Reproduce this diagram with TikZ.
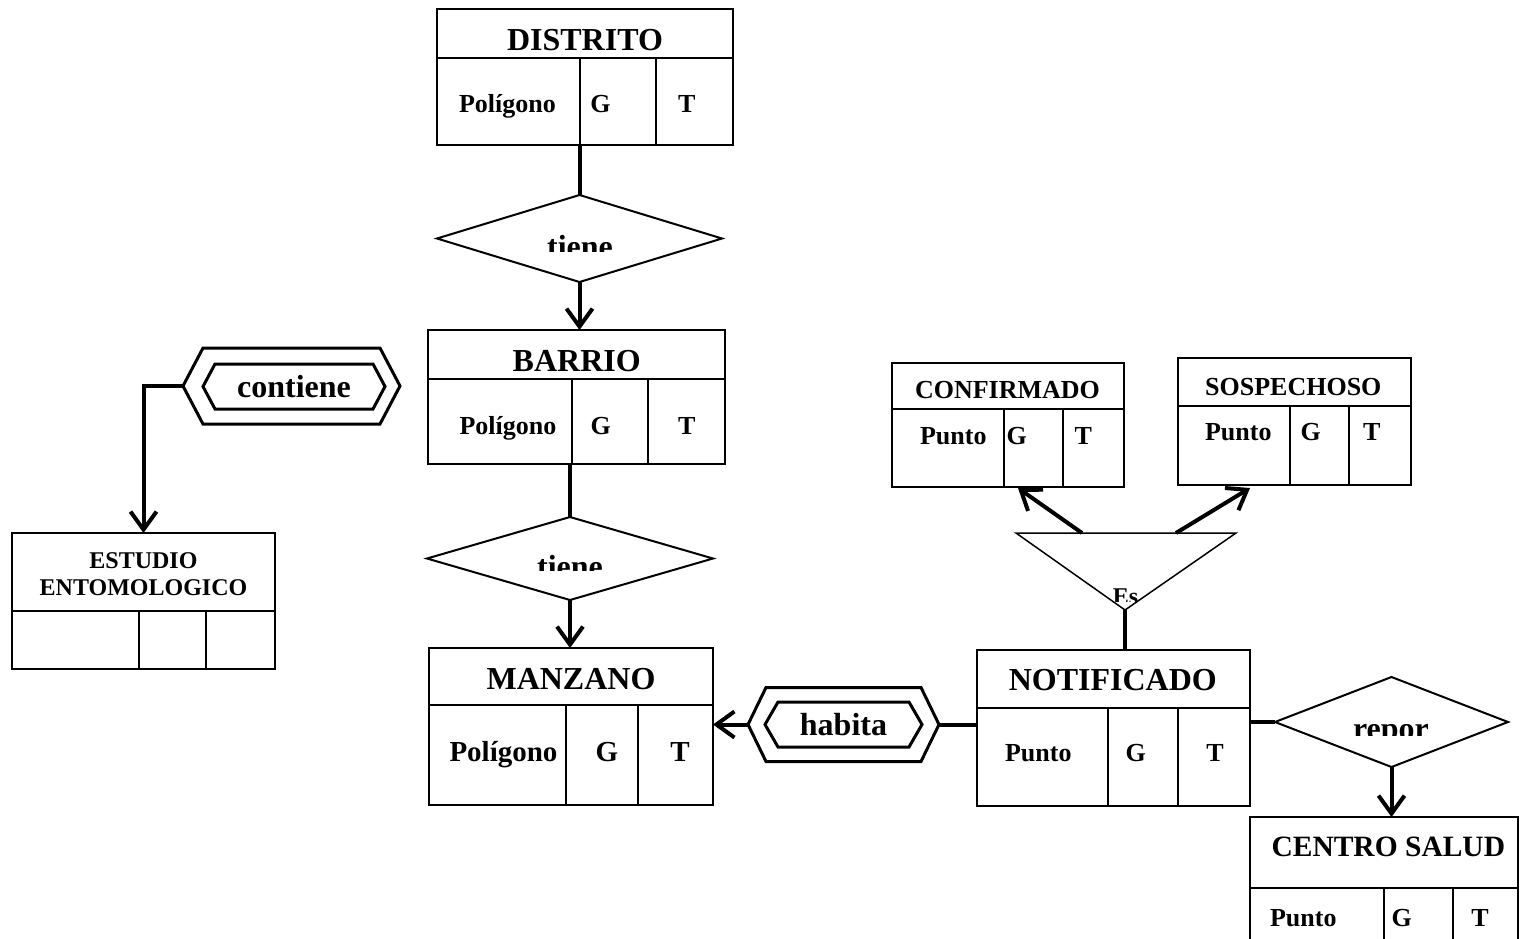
\documentclass[tikz,border=0pt]{standalone}
\usepackage{fontspec}
\setmainfont{Liberation Serif}
\usetikzlibrary{arrows.meta,shapes.geometric}

\tikzset{
  tabla/.style={draw, line width=2pt, inner sep=0pt, outer sep=0pt},
  titulo/.style={anchor=base, font=\fontsize{32}{32}\selectfont\bfseries},
  tituloS/.style={anchor=base, font=\fontsize{26}{26}\selectfont\bfseries},
  tituloM/.style={anchor=base, font=\fontsize{29.5}{29.5}\selectfont\bfseries},
  tituloE/.style={anchor=base, font=\fontsize{24}{24}\selectfont\bfseries},
  campo/.style={anchor=base, font=\fontsize{26}{26}\selectfont\bfseries},
  campoM/.style={anchor=base, font=\fontsize{29}{29}\selectfont\bfseries},
  rombo/.style={draw, diamond, line width=2pt, inner sep=0pt, outer sep=0pt},
  hexa/.style={inner sep=0pt, outer sep=0pt, font=\fontsize{32}{32}\selectfont\bfseries},
  hexlinea/.style={line width=3pt, line join=miter},
  conector/.style={line width=4pt},
  flecha/.style={conector, -{Straight Barb[length=18pt,width=26pt]}},
}

\newcommand{\tabla}[8]{%
  \node[tabla, minimum width={#4-#2}, minimum height={#5-#3}] (#1) at ({(#2+#4)/2},{(#3+#5)/2}) {};
  \draw[line width=2pt] (#2,#6) -- (#4,#6) (#7,#6) -- (#7,#5) (#8,#6) -- (#8,#5);
}
\newcommand{\fila}[7]{%
  \node[#7] (#1a) at (#3,#2) {#4};
  \node[#7] (#1g) at (#5,#2) {G};
  \node[#7] (#1t) at (#6,#2) {T};
}
\newcommand{\hexagono}[2]{%
  \draw[hexlinea] (#1.west) -- ([xshift=#2]#1.north west) -- ([xshift=-#2]#1.north east)
    -- (#1.east) -- ([xshift=-#2]#1.south east) -- ([xshift=#2]#1.south west) -- cycle;
}

\begin{document}
\begin{tikzpicture}[x=1pt, y=-1pt]
\useasboundingbox (0,0) rectangle (1520,938);

\tabla{distrito}{437}{9}{733}{145}{58}{580}{656}
\node[titulo] (distritoN) at (585,50) {DISTRITO};
\fila{distrito}{112}{507.5}{Polígono}{600.5}{686.7}{campo}

\tabla{barrio}{428}{330}{725}{464}{379}{572}{648}
\node[titulo] (barrioN) at (576.7,371.7) {BARRIO};
\fila{barrio}{434}{508}{Polígono}{600.8}{686.7}{campo}

\tabla{manzano}{429}{648}{713}{805}{705}{566}{638}
\node[titulo] (manzanoN) at (571,689) {MANZANO};
\fila{manzano}{761}{503.5}{Polígono}{607}{680}{campoM}

\tabla{notificado}{977}{650}{1250}{806}{708}{1108}{1178}
\node[titulo] (notificadoN) at (1112.8,690) {NOTIFICADO};
\fila{notificado}{761.7}{1038.3}{Punto}{1135.7}{1215}{campo}

\tabla{confirmado}{892}{363}{1124}{487}{409}{1004}{1063}
\node[tituloS] (confirmadoN) at (1007.5,398.3) {CONFIRMADO};
\fila{confirmado}{444}{953.3}{Punto}{1016.7}{1083.3}{campo}

\tabla{sospechoso}{1178}{358}{1411}{485}{406}{1290}{1349}
\node[tituloS] (sospechosoN) at (1293.3,395) {SOSPECHOSO};
\fila{sospechoso}{440}{1238.3}{Punto}{1310.7}{1371.7}{campo}

\tabla{centro}{1250}{817}{1518}{960}{888}{1384}{1453}
\node[tituloM] (centroN) at (1388.3,856.7) {CENTRO SALUD};
\fila{centro}{926.7}{1303.3}{Punto}{1401.7}{1480}{campo}

\tabla{estudio}{12}{533}{275}{669}{611}{139}{206}
\node[tituloE] (estudioN1) at (143.5,568.3) {ESTUDIO};
\node[tituloE] (estudioN2) at (143.5,595) {ENTOMOLOGICO};

\node[rombo, minimum width=285, minimum height=87] (tiene1) at (579.5,238.5) {};
\begin{scope}
  \clip (440,200) rectangle (720,251);
  \node[titulo] (tiene1N) at (580,257) {tiene};
\end{scope}
\node[rombo, minimum width=286, minimum height=83] (tiene2) at (570,558.5) {};
\begin{scope}
  \clip (430,520) rectangle (710,570);
  \node[titulo] (tiene2N) at (570,577.5) {tiene};
\end{scope}
\node[rombo, minimum width=233, minimum height=90] (repor) at (1391.5,722) {};
\begin{scope}
  \clip (1280,690) rectangle (1500,735);
  \node[titulo] (reporN) at (1391,739) {repor};
\end{scope}

\node[hexa, minimum width=217, minimum height=76] (contiene) at (291.5,386) {};
\node[hexa, minimum width=182, minimum height=45] (contieneN) at (294,386.5) {contiene};
\hexagono{contiene}{20pt}
\hexagono{contieneN}{12pt}

\node[hexa, minimum width=191, minimum height=74] (habita) at (843.5,724.5) {};
\node[hexa, minimum width=157, minimum height=45] (habitaN) at (843.5,724.5) {habita};
\hexagono{habita}{18pt}
\hexagono{habitaN}{13pt}

\coordinate (esL) at (1016,533);
\coordinate (esR) at (1236,533);
\coordinate (esB) at (1125,610);
\draw[line width=1.5pt] (esL) -- (esR) -- (esB) -- cycle;
\begin{scope}
  \clip (1090,570) rectangle (1160,601);
  \node[tituloE] (esN) at (1125.5,604) {Es};
\end{scope}
\coordinate (esC) at (1082,533);
\coordinate (esS) at (1176,533);
\coordinate (confP) at (1018,488);
\coordinate (sospP) at (1250,488);

\draw[conector] (distrito.south -| tiene1.north) -- (tiene1.north);
\draw[flecha] (tiene1.south) -- (tiene1.south |- barrio.north);
\draw[conector] (barrio.south -| tiene2.north) -- (tiene2.north);
\draw[flecha] (tiene2.south) -- (tiene2.south |- manzano.north);
\draw[flecha] (habita.west) -- (habita.west -| manzano.east);
\draw[conector] (habita.east) -- (habita.east -| notificado.west);
\draw[conector] (esB) -- (esB |- notificado.north);
\draw[flecha] (esC) -- (confP);
\draw[flecha] (esS) -- (sospP);
\draw[conector] (repor.west -| notificado.east) -- (repor.west);
\draw[flecha] (repor.south) -- (repor.south |- centro.north);
\draw[flecha] (contiene.west) -| (estudio.north);
\end{tikzpicture}
\end{document}
